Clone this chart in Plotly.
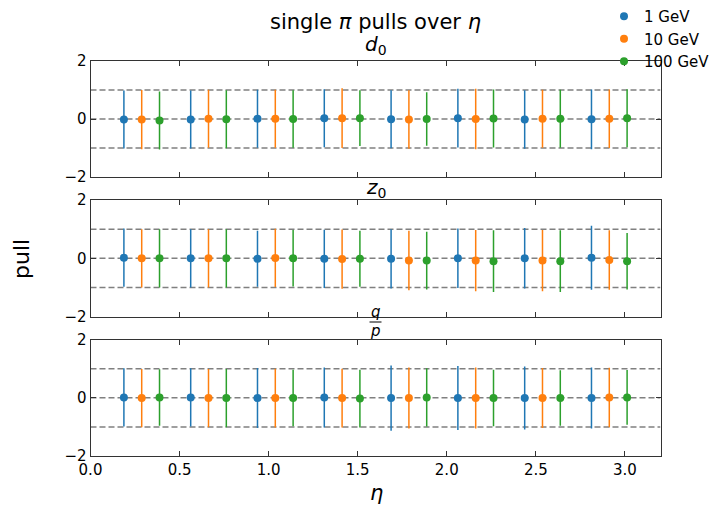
import plotly.graph_objects as go
from plotly.subplots import make_subplots

# eta bin centres and the small shift used to separate the three energies
eta_centers = [0.1875, 0.5625, 0.9375, 1.3125, 1.6875, 2.0625, 2.4375, 2.8125]
energies = ['1 GeV', '10 GeV', '100 GeV']
energy_shift = [0.0, 0.1, 0.2]
colors = ['#1f77b4', '#ff7f0e', '#2ca02c']

# d0 pulls: mean and width per energy
d0_mean_1 = [-0.02, -0.02, 0.01, 0.03, -0.01, 0.03, -0.02, -0.01]
d0_err_1 = [1.00, 1.00, 1.00, 1.00, 1.00, 1.01, 1.01, 1.03]
d0_mean_10 = [-0.02, 0.01, 0.01, 0.03, -0.02, 0.00, 0.01, 0.01]
d0_err_10 = [1.02, 1.00, 1.00, 1.03, 1.01, 1.04, 1.00, 1.01]
d0_mean_100 = [-0.05, -0.01, 0.00, 0.03, 0.00, 0.02, 0.01, 0.03]
d0_err_100 = [1.00, 1.00, 0.99, 0.96, 0.92, 1.00, 1.00, 1.00]

# z0 pulls
z0_mean_1 = [0.02, 0.00, -0.02, -0.02, -0.02, 0.00, 0.00, 0.02]
z0_err_1 = [1.00, 1.00, 0.96, 1.00, 1.02, 1.02, 1.04, 1.10]
z0_mean_10 = [0.00, 0.00, 0.01, -0.03, -0.08, -0.08, -0.08, -0.06]
z0_err_10 = [1.00, 1.00, 1.00, 1.02, 1.02, 1.05, 1.05, 1.02]
z0_mean_100 = [0.00, 0.00, 0.00, -0.02, -0.08, -0.10, -0.10, -0.10]
z0_err_100 = [1.00, 1.00, 0.97, 0.96, 0.99, 1.06, 1.06, 0.97]

# q/p pulls
qp_mean_1 = [0.01, 0.01, -0.01, 0.01, -0.01, -0.01, -0.01, -0.01]
qp_err_1 = [1.00, 1.00, 1.03, 1.03, 1.12, 1.10, 1.08, 1.05]
qp_mean_10 = [-0.01, -0.01, -0.01, -0.01, -0.01, -0.01, -0.01, 0.01]
qp_err_10 = [1.00, 1.00, 1.01, 1.01, 1.05, 1.05, 1.03, 1.02]
qp_mean_100 = [0.01, -0.01, -0.01, -0.03, 0.01, -0.01, -0.01, 0.01]
qp_err_100 = [0.97, 1.00, 0.97, 0.99, 1.00, 0.97, 0.95, 0.94]

panels = [
    ([d0_mean_1, d0_mean_10, d0_mean_100], [d0_err_1, d0_err_10, d0_err_100]),
    ([z0_mean_1, z0_mean_10, z0_mean_100], [z0_err_1, z0_err_10, z0_err_100]),
    ([qp_mean_1, qp_mean_10, qp_mean_100], [qp_err_1, qp_err_10, qp_err_100]),
]
ref_levels = [-1, 0, 1]

W, H = 724, 506
FONT = 'DejaVu Sans'

fig = make_subplots(rows=3, cols=1, shared_xaxes=True, vertical_spacing=0.02)

# dashed reference lines first, so the points sit on top
for r in range(1, 4):
    for lvl in ref_levels:
        fig.add_trace(go.Scatter(
            x=[0, 3.2], y=[lvl, lvl], mode='lines',
            line=dict(color='#808080', width=1.5, dash='6px,3px'),
            showlegend=False, hoverinfo='skip'), row=r, col=1)

for r, (means, errs) in enumerate(panels, start=1):
    for k in range(3):
        fig.add_trace(go.Scatter(
            x=[c + energy_shift[k] for c in eta_centers],
            y=means[k],
            mode='markers',
            name=energies[k],
            showlegend=(r == 1),
            marker=dict(color=colors[k], size=8),
            error_y=dict(type='data', array=errs[k], width=0,
                         thickness=1.5, color=colors[k]),
        ), row=r, col=1)

# panel placement in pixels (top, bottom)
x0, x1 = 90.5, 660.5
rows_px = [(61, 177), (200, 316.5), (339.5, 456)]

axis_common = dict(showline=True, linecolor='#333333', linewidth=1, mirror='ticks',
                   ticks='inside', ticklen=5, tickcolor='#333333', showgrid=False,
                   zeroline=False, tickfont=dict(family=FONT, size=15, color='black'))

for i, (t, b) in enumerate(rows_px, start=1):
    sfx = '' if i == 1 else str(i)
    fig.layout['xaxis' + sfx].update(
        domain=[x0 / W, x1 / W], range=[0, 3.2],
        tickvals=[0, 0.5, 1.0, 1.5, 2.0, 2.5, 3.0],
        ticktext=['0.0', '0.5', '1.0', '1.5', '2.0', '2.5', '3.0'],
        showticklabels=(i == 3), **axis_common)
    fig.layout['yaxis' + sfx].update(
        domain=[1 - b / H, 1 - t / H], range=[-2, 2],
        tickvals=[-2, 0, 2], ticktext=['\u22122', '0', '2'], **axis_common)

cx = (x0 + x1) / 2 / W
anns = [
    dict(text='single <i>\u03c0</i> pulls over <i>\u03b7</i>', x=cx, y=1 - 22 / H, font=dict(size=21)),
    dict(text='<i>d</i><sub>0</sub>', x=cx, y=1 - 45 / H, font=dict(size=20)),
    dict(text='<i>z</i><sub>0</sub>', x=cx, y=1 - 188 / H, font=dict(size=20)),
    dict(text='<i>q</i>', x=cx, y=1 - 312 / H, font=dict(size=15)),
    dict(text='<i>p</i>', x=cx, y=1 - 331 / H, font=dict(size=15)),
    dict(text='pull', x=21 / W, y=1 - 259 / H, textangle=-90, font=dict(size=22)),
    dict(text='<i>\u03b7</i>', x=376 / W, y=1 - 493 / H, font=dict(size=21)),
]
for a in anns:
    a.update(xref='paper', yref='paper', showarrow=False, xanchor='center', yanchor='middle')
    a['font'] = dict(family=FONT, color='black', **a['font'])
    fig.add_annotation(**a)

# fraction bar for q/p
fig.add_shape(type='line', xref='paper', yref='paper',
              x0=cx - 6 / W, x1=cx + 6 / W, y0=1 - 322 / H, y1=1 - 322 / H,
              line=dict(color='black', width=1))

fig.update_layout(
    width=W, height=H,
    margin=dict(l=0, r=0, t=0, b=0, autoexpand=False),
    plot_bgcolor='white', paper_bgcolor='white',
    font=dict(family=FONT, size=15, color='black'),
    legend=dict(x=604 / W, y=1, xanchor='left', yanchor='top',
                bgcolor='rgba(0,0,0,0)', font=dict(family=FONT, size=15),
                itemwidth=30, tracegroupgap=0),
)

fig.write_html('out.html', config={'displayModeBar': False},
               post_script="document.body.style.margin='0';")
